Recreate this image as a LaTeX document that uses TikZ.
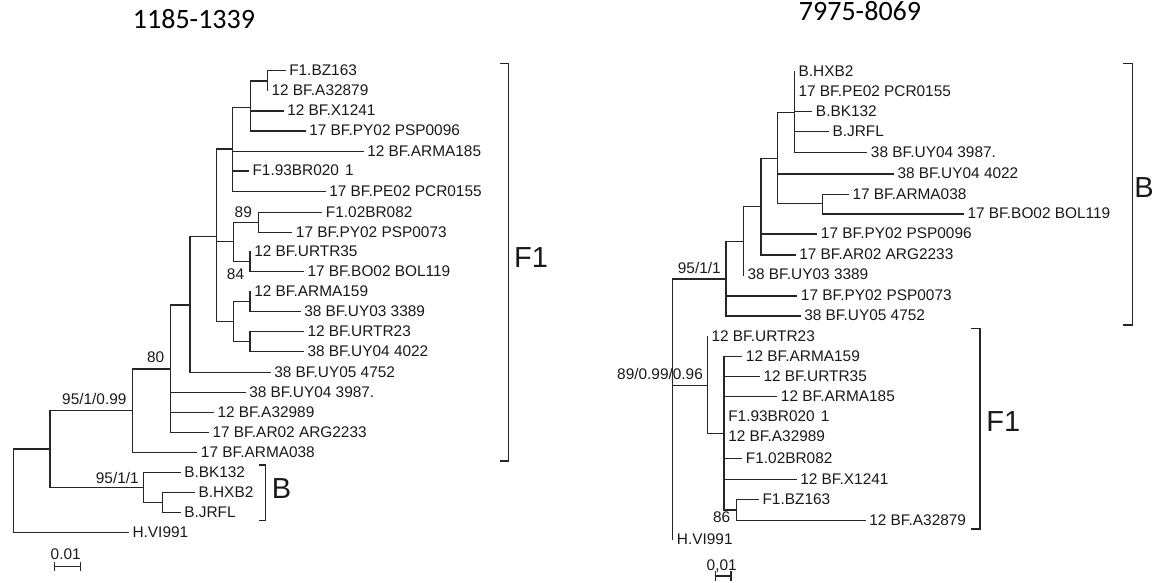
\documentclass[tikz,border=0pt]{standalone}
\usepackage{fontspec}
\setmainfont{Liberation Sans}
\newfontfamily\titlefont{Carlito}
\newcommand\lblfont{\fontsize{11.55pt}{13pt}\selectfont}
\newcommand\cladefont{\fontsize{21.75pt}{24pt}\selectfont}
\newcommand\ttlfont{\titlefont\fontsize{21pt}{24pt}\selectfont}
\begin{document}
\begin{tikzpicture}[x=0.75pt,y=-0.75pt,
  br/.style={line width=0.95pt, draw=black!85, line cap=rect},
  leaf/.style={anchor=west, inner xsep=3pt, inner ysep=0pt, text height=0.72em, text depth=0pt, font=\lblfont, text=black!90},
  supp/.style={inner sep=0pt, text height=0.72em, text depth=0pt, font=\lblfont, text=black!90},
  clade/.style={inner sep=0pt, text height=0.72em, text depth=0pt, font=\cladefont, text=black!90},
  ttl/.style={inner sep=0pt, text height=0.63em, text depth=0pt, font=\ttlfont, text=black}]
\useasboundingbox (0,0) rectangle (1162,582);

% ---------------- titles ----------------
\node[ttl] (t1) at (194,24.5) {1185-1339};
\node[ttl] (t2) at (860,16.5) {7975-8069};

% ---------------- left tree: leaves ----------------
\node[leaf] (l1) at (285,70.5) {F1.BZ163};
\node[leaf] (l2) at (267.3,90.5) {12 BF.A32879};
\node[leaf] (l3) at (283,111) {12 BF.X1241};
\node[leaf] (l4) at (305,131) {17 BF.PY02 PSP0096};
\node[leaf] (l5) at (363,151.5) {12 BF.ARMA185};
\node[leaf] (l6) at (248.3,171) {F1.93BR020\hspace{0.4em}1};
\node[leaf] (l7) at (325,191.5) {17 BF.PE02 PCR0155};
\node[leaf] (l8) at (321.7,212.3) {F1.02BR082};
\node[leaf] (l9) at (291.7,232.3) {17 BF.PY02 PSP0073};
\node[leaf] (l10) at (250,251.7) {12 BF.URTR35};
\node[leaf] (l11) at (303.3,271.7) {17 BF.BO02 BOL119};
\node[leaf] (l12) at (250,292) {12 BF.ARMA159};
\node[leaf] (l13) at (300,311.7) {38 BF.UY03 3389};
\node[leaf] (l14) at (303.3,331.7) {12 BF.URTR23};
\node[leaf] (l15) at (303.3,351.7) {38 BF.UY04 4022};
\node[leaf] (l16) at (270,372.7) {38 BF.UY05 4752};
\node[leaf] (l17) at (245,392.7) {38 BF.UY04 3987.};
\node[leaf] (l18) at (213.3,412.7) {12 BF.A32989};
\node[leaf] (l19) at (208.3,432.3) {17 BF.AR02 ARG2233};
\node[leaf] (l20) at (196.7,452.3) {17 BF.ARMA038};
\node[leaf] (l21) at (180,472.3) {B.BK132};
\node[leaf] (l22) at (194.3,492.7) {B.HXB2};
\node[leaf] (l23) at (180,512.7) {B.JRFL};
\node[leaf] (l24) at (128.3,532.7) {H.VI991};

% ---------------- left tree: internal nodes ----------------
\coordinate (a1) at (267.3,81);
\coordinate (a2) at (250.7,107.3);
\coordinate (a3) at (232.7,149);
\coordinate (a4) at (258.3,222.3);
\coordinate (a5) at (250,261.7);
\coordinate (a6) at (233.3,241.7);
\coordinate (a7) at (250,301.7);
\coordinate (a8) at (250,341.7);
\coordinate (a9) at (233.3,321.7);
\coordinate (a10) at (216.7,236.7);
\coordinate (a11) at (190,305);
\coordinate (a12) at (170.7,369);
\coordinate (a13) at (132.7,410.7);
\coordinate (a14) at (162.3,502.7);
\coordinate (a15) at (143.3,487.7);
\coordinate (a16) at (50,449);
\coordinate (a0) at (13.3,490);

\foreach \p/\c in {a1/l1.west, a1/l2.west,
  a2/a1, a2/l3.west, a2/l4.west,
  a3/a2, a3/l5.west, a3/l6.west, a3/l7.west,
  a4/l8.west, a4/l9.west,
  a5/l10.west, a5/l11.west,
  a6/a4, a6/a5,
  a7/l12.west, a7/l13.west,
  a8/l14.west, a8/l15.west,
  a9/a7, a9/a8,
  a10/a3, a10/a6, a10/a9,
  a11/a10, a11/l16.west,
  a12/a11, a12/l17.west, a12/l18.west, a12/l19.west,
  a13/a12, a13/l20.west,
  a14/l22.west, a14/l23.west,
  a15/l21.west, a15/a14,
  a16/a13, a16/a15,
  a0/a16, a0/l24.west}
  \draw[br] (\p) |- (\c);

% support values (left)
\node[supp] (s89) at (243.3,212.7) {89};
\node[supp] (s84) at (235.5,275) {84};
\node[supp] (s80) at (155.7,357.3) {80};
\node[supp] (s95a) at (94.3,400) {95/1/0.99};
\node[supp] (s95b) at (117.3,478.3) {95/1/1};

% brackets and clade names (left)
\draw[br] (501,63.3) -- (508.7,63.3) -- (508.7,461) -- (501,461);
\node[clade] (cF1a) at (531,262.5) {F1};
\draw[br] (260,465) -- (265.7,465) -- (265.7,520.7) -- (260,520.7);
\node[clade] (cBa) at (281.5,494) {B};

% scale bar (left)
\coordinate (sb1) at (54.3,566.7);
\coordinate (sb2) at (80.7,566.7);
\draw[br] (sb1) -- (sb2);
\draw[br] ([yshift=-3pt]sb1) -- ([yshift=3pt]sb1);
\draw[br] ([yshift=-3pt]sb2) -- ([yshift=3pt]sb2);
\node[supp] (sc1) at (65.7,555) {0.01};

% ---------------- right tree: leaves ----------------
\node[leaf] (r1) at (794.3,71.7) {B.HXB2};
\node[leaf] (r2) at (794.3,91.7) {17 BF.PE02 PCR0155};
\node[leaf] (r3) at (811.7,111.7) {B.BK132};
\node[leaf] (r4) at (828.3,131.7) {B.JRFL};
\node[leaf] (r5) at (866.7,152.7) {38 BF.UY04 3987.};
\node[leaf] (r6) at (893.3,174) {38 BF.UY04 4022};
\node[leaf] (r7) at (848.3,194.3) {17 BF.ARMA038};
\node[leaf] (r8) at (963.3,214) {17 BF.BO02 BOL119};
\node[leaf] (r9) at (816.7,234) {17 BF.PY02 PSP0096};
\node[leaf] (r10) at (795,255) {17 BF.AR02 ARG2233};
\node[leaf] (r11) at (743.3,275) {38 BF.UY03 3389};
\node[leaf] (r12) at (796.7,296) {17 BF.PY02 PSP0073};
\node[leaf] (r13) at (800,316) {38 BF.UY05 4752};
\node[leaf] (r14) at (707.3,336.7) {12 BF.URTR23};
\node[leaf] (r15) at (741.7,356.7) {12 BF.ARMA159};
\node[leaf] (r16) at (759.3,376.7) {12 BF.URTR35};
\node[leaf] (r17) at (776.7,396.7) {12 BF.ARMA185};
\node[leaf] (r18) at (724,416.7) {F1.93BR020\hspace{0.4em}1};
\node[leaf] (r19) at (724,436.5) {12 BF.A32989};
\node[leaf] (r20) at (741.7,458.3) {F1.02BR082};
\node[leaf] (r21) at (796,479.3) {12 BF.X1241};
\node[leaf] (r22) at (758.3,499.3) {F1.BZ163};
\node[leaf] (r23) at (865,520.7) {12 BF.A32879};
\node[leaf] (r24) at (672.7,539.3) {H.VI991};

% ---------------- right tree: internal nodes ----------------
\coordinate (b1) at (794.3,112.5);
\coordinate (b2) at (822.7,203.5);
\coordinate (b3) at (777.7,158.3);
\coordinate (b4) at (761,206.7);
\coordinate (b5) at (743.3,241.7);
\coordinate (b6) at (726,279);
\coordinate (b7) at (736.7,510);
\coordinate (b8) at (724,433.3);
\coordinate (b9) at (707.3,385.7);
\coordinate (b0) at (672.7,400);

\foreach \p/\c in {b1/r1.west, b1/r2.west, b1/r3.west, b1/r4.west, b1/r5.west,
  b2/r7.west, b2/r8.west,
  b3/b1, b3/r6.west, b3/b2,
  b4/b3, b4/r9.west, b4/r10.west,
  b5/b4, b5/r11.west,
  b6/b5, b6/r12.west, b6/r13.west,
  b7/r22.west, b7/r23.west,
  b8/r15.west, b8/r16.west, b8/r17.west, b8/r18.west, b8/r19.west,
  b8/r20.west, b8/r21.west, b8/b7,
  b9/r14.west, b9/b8,
  b0/b6, b0/b9, b0/r24.west}
  \draw[br] (\p) |- (\c);

% support values (right)
\node[supp] (t95) at (699.3,269) {95/1/1};
\node[supp] (t89) at (660,375) {89/0.99/0.96};
\node[supp] (t86) at (721.7,517.7) {86};

% brackets and clade names (right)
\draw[br] (1124,63.3) -- (1132.7,63.3) -- (1132.7,325) -- (1124,325);
\node[clade] (cBb) at (1144,193) {B};
\draw[br] (971.7,328.3) -- (980,328.3) -- (980,529) -- (971.7,529);
\node[clade] (cF1b) at (1003.3,426.7) {F1};

% scale bar (right)
\coordinate (sb3) at (715.7,576);
\coordinate (sb4) at (731,576);
\draw[br] (sb3) -- (sb4);
\draw[br] ([yshift=-3pt]sb3) -- ([yshift=3pt]sb3);
\draw[br] ([yshift=-3pt]sb4) -- ([yshift=3pt]sb4);
\node[supp] (sc2) at (721.7,566) {0,01};
\end{tikzpicture}
\end{document}
